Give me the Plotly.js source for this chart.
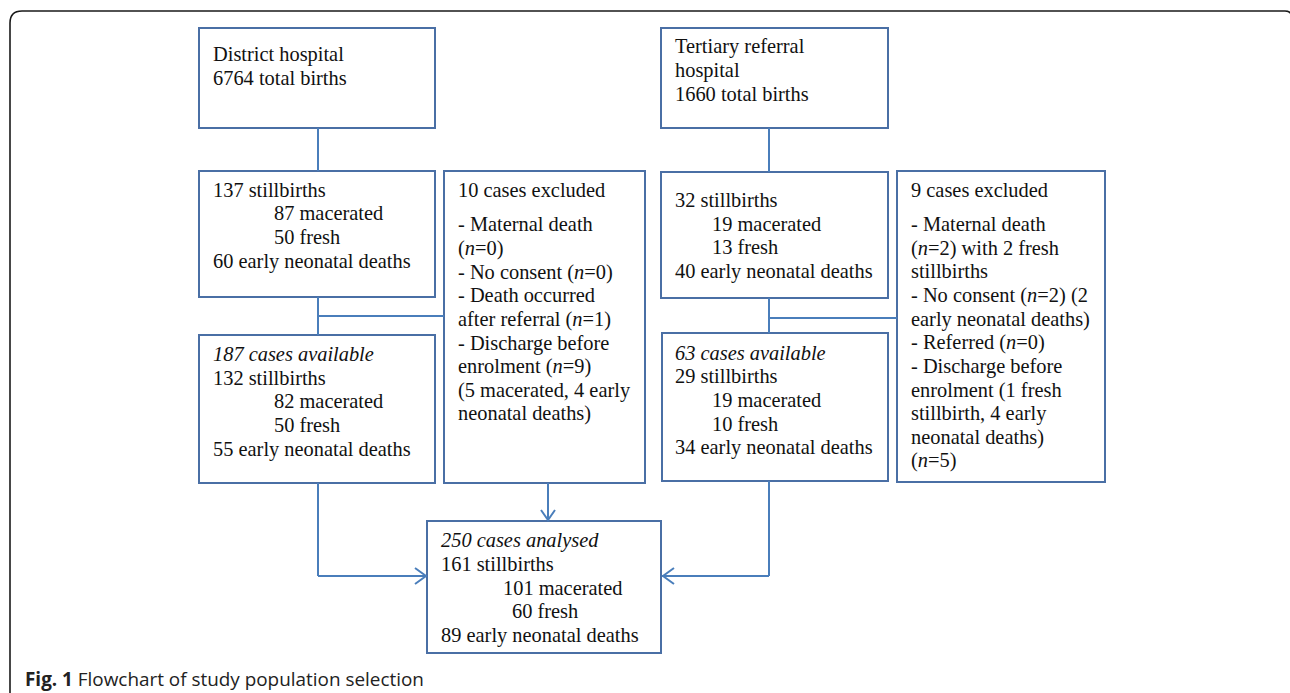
<!DOCTYPE html>
<html>
<head>
<meta charset="utf-8">
<script src="https://cdn.plot.ly/plotly-3.0.1.min.js"></script>
<style>html,body{margin:0;padding:0;background:#fff;}#chart{width:1290px;height:693px;}</style>
</head>
<body>
<div id="chart"></div>
<script>
// ---- data ----
const hospitals = ["District hospital", "Tertiary referral hospital"];
const totalBirths = [6764, 1660];
const stillbirths = [137, 32];
const macerated = [87, 19];
const fresh = [50, 13];
const earlyNeonatal = [60, 40];
const excludedCases = [10, 9];
const availableCases = [187, 63];
const availStillbirths = [132, 29];
const availMacerated = [82, 19];
const availFresh = [50, 10];
const availEarlyNeonatal = [55, 34];
const analysedCases = 250;
const analysedStillbirths = 161;
const analysedMacerated = 101;
const analysedFresh = 60;
const analysedEarlyNeonatal = 89;
const districtExclusionLines = [
  "- Maternal death", "(<i>n</i>=0)", "- No consent (<i>n</i>=0)", "- Death occurred",
  "after referral (<i>n</i>=1)", "- Discharge before", "enrolment (<i>n</i>=9)",
  "(5 macerated, 4 early", "neonatal deaths)"
];
const tertiaryExclusionLines = [
  "- Maternal death", "(<i>n</i>=2) with 2 fresh", "stillbirths", "- No consent (<i>n</i>=2) (2",
  "early neonatal deaths)", "- Referred (<i>n</i>=0)", "- Discharge before", "enrolment (1 fresh",
  "stillbirth, 4 early", "neonatal deaths)", "(<i>n</i>=5)"
];
const caption = ["Fig. 1", "Flowchart of study population selection"];

// ---- texts per box ----
const boxTexts = [
  ["District hospital", totalBirths[0] + " total births"],
  ["Tertiary referral", "hospital", totalBirths[1] + " total births"],
  [stillbirths[0] + " stillbirths", macerated[0] + " macerated", fresh[0] + " fresh", earlyNeonatal[0] + " early neonatal deaths"],
  [excludedCases[0] + " cases excluded"].concat(districtExclusionLines),
  ["<i>" + availableCases[0] + " cases available</i>", availStillbirths[0] + " stillbirths", availMacerated[0] + " macerated", availFresh[0] + " fresh", availEarlyNeonatal[0] + " early neonatal deaths"],
  [stillbirths[1] + " stillbirths", macerated[1] + " macerated", fresh[1] + " fresh", earlyNeonatal[1] + " early neonatal deaths"],
  [excludedCases[1] + " cases excluded"].concat(tertiaryExclusionLines),
  ["<i>" + availableCases[1] + " cases available</i>", availStillbirths[1] + " stillbirths", availMacerated[1] + " macerated", availFresh[1] + " fresh", availEarlyNeonatal[1] + " early neonatal deaths"],
  ["<i>" + analysedCases + " cases analysed</i>", analysedStillbirths + " stillbirths", analysedMacerated + " macerated", analysedFresh + " fresh", analysedEarlyNeonatal + " early neonatal deaths"]
];

// ---- layout (positions) ----
const boxRects = [
  [199, 28, 435, 128], [661, 28, 888, 128],
  [199, 171, 435, 297], [444, 171, 645, 483], [199, 335, 435, 483],
  [661, 172, 888, 298], [897, 171, 1105, 482], [662, 333, 888, 481],
  [427, 521, 661, 653]
];
const lineY = [
  [54, 78], [46, 70, 94],
  [190, 213, 237, 261],
  [190, 224, 248, 272, 295, 319, 343, 366, 390, 413],
  [354, 378, 401, 425, 449],
  [200, 224, 247, 271],
  [190, 224, 248, 271, 295, 319, 342, 366, 390, 413, 437, 460],
  [353, 376, 400, 424, 447],
  [540, 564, 588, 611, 635]
];
const lineX = [
  [213, 213], [675, 675, 675],
  [213, 274, 274, 213],
  null,
  [213, 213, 274, 274, 213],
  [675, 712, 712, 675],
  null,
  [675, 675, 712, 712, 675],
  [441, 441, 503, 512, 441]
];
const leftX = [213, 675, 213, 458, 213, 675, 911, 675, 441];
const PADX = 2;

const BOX = '#4a6fa5', LINK = '#4a7ebb';
const shapes = [];
const annotations = [];

// outer frame
shapes.push({type: 'path', xref: 'x', yref: 'y',
  path: 'M10,705 L10,23 Q10,11 22,11 L1285,11 Q1292,11 1292,18 L1292,705',
  line: {color: '#1a1a1a', width: 1.6}, fillcolor: 'rgba(0,0,0,0)'});

boxRects.forEach((r, i) => {
  shapes.push({type: 'rect', xref: 'x', yref: 'y', x0: r[0], y0: r[1], x1: r[2], y1: r[3],
    line: {color: BOX, width: 2}, fillcolor: 'rgba(0,0,0,0)'});
  boxTexts[i].forEach((t, j) => {
    annotations.push({xref: 'x', yref: 'y', x: (lineX[i] ? lineX[i][j] : leftX[i]) - PADX, y: lineY[i][j],
      text: t, showarrow: false, xanchor: 'left', yanchor: 'middle',
      font: {family: 'Liberation Serif, Times New Roman, serif', size: 20.4, color: '#111'}});
  });
});

function seg(x0, y0, x1, y1) {
  shapes.push({type: 'line', xref: 'x', yref: 'y', x0, y0, x1, y1, line: {color: LINK, width: 2}});
}
// connectors
seg(318, 128, 318, 171); seg(318, 297, 318, 335); seg(318, 316, 444, 316);
seg(769, 128, 769, 172); seg(769, 298, 769, 333); seg(769, 318, 897, 318);
seg(318, 483, 318, 576); seg(318, 576, 426, 576);
seg(548, 483, 548, 520);
seg(769, 481, 769, 576); seg(769, 576, 662, 576);
// chevron arrow heads
function chev(p) {
  shapes.push({type: 'path', xref: 'x', yref: 'y', path: p, line: {color: LINK, width: 2}, fillcolor: 'rgba(0,0,0,0)'});
}
chev('M415,568 L426,576 L415,584');
chev('M541,510 L548,520 L555,510');
chev('M674,568 L663,576 L674,584');

// caption
annotations.push({xref: 'x', yref: 'y', x: 23, y: 679, xanchor: 'left', yanchor: 'middle', showarrow: false,
  text: '<b>' + caption[0] + '</b> ' + caption[1],
  font: {family: 'Open Sans, sans-serif', size: 18.9, color: '#222'}});

const layout = {
  width: 1290, height: 693,
  margin: {l: 0, r: 0, t: 0, b: 0},
  paper_bgcolor: '#fff', plot_bgcolor: '#fff',
  xaxis: {range: [0, 1290], visible: false, fixedrange: true},
  yaxis: {range: [693, 0], visible: false, fixedrange: true},
  showlegend: false,
  shapes, annotations
};
Plotly.newPlot('chart', [{x: [], y: [], type: 'scatter', mode: 'markers', hoverinfo: 'skip'}], layout, {displayModeBar: false, staticPlot: true});
</script>
</body>
</html>
